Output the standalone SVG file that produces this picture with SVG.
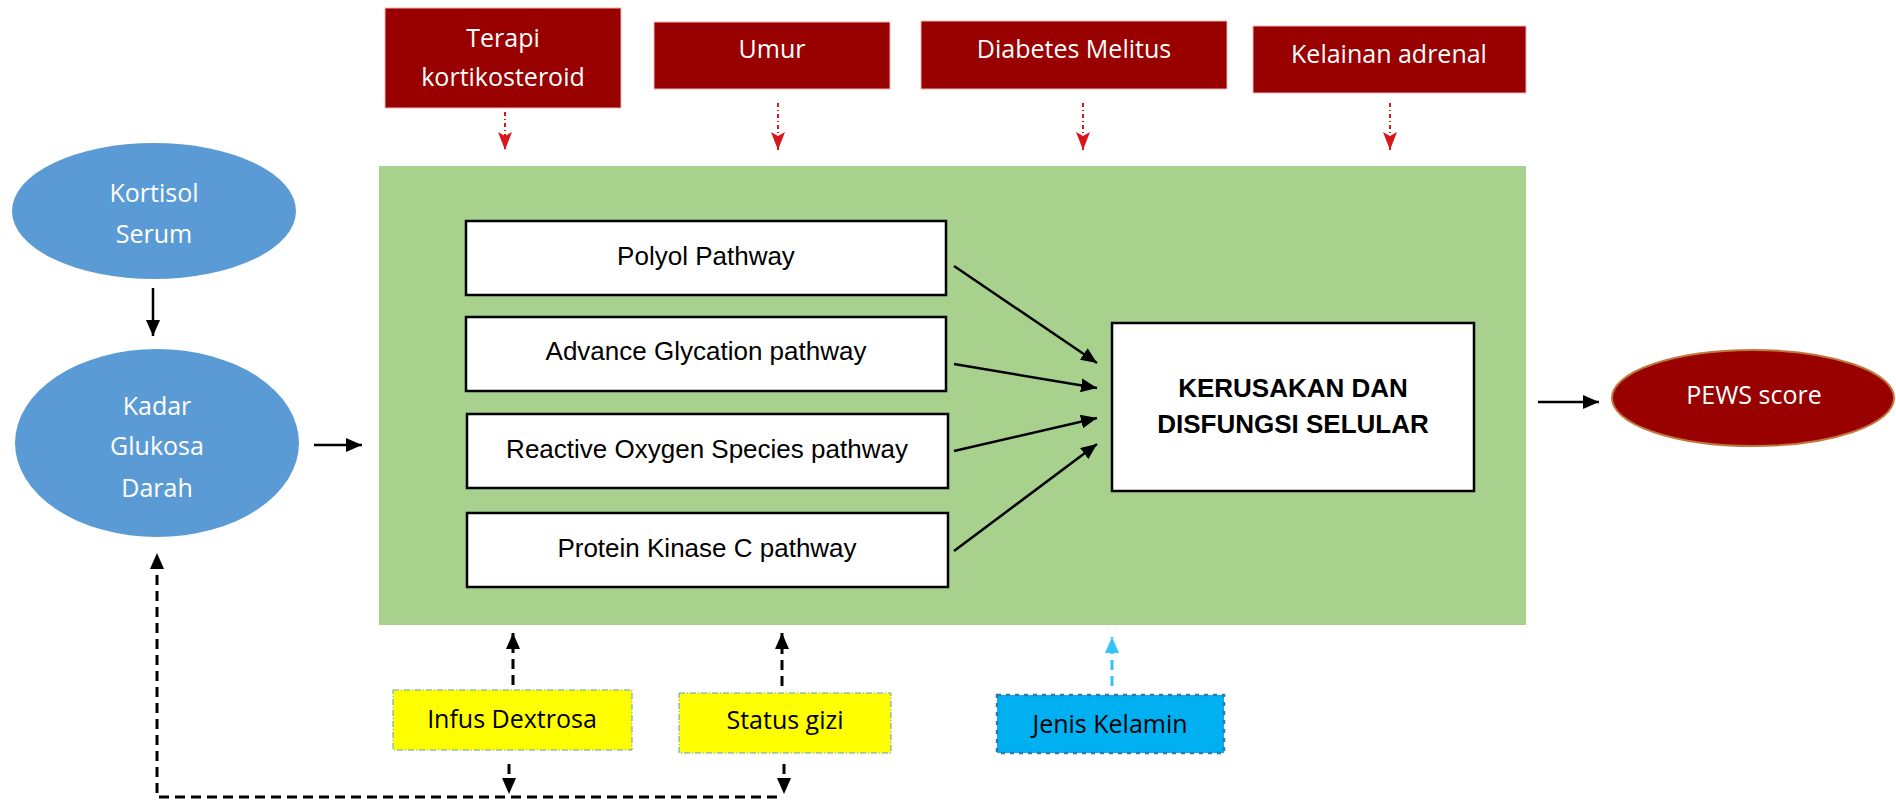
<svg xmlns="http://www.w3.org/2000/svg" width="1896" height="800" viewBox="0 0 1896 800">
<style>
.cal{font-family:"Open Sans","Liberation Sans",sans-serif;font-size:25px;text-anchor:middle}
.w{fill:#FFFFFF}
.k{fill:#000000}
.ar{font-family:"Liberation Sans",Arial,sans-serif;font-size:26px;text-anchor:middle;fill:#000}
.arb{font-family:"Liberation Sans",Arial,sans-serif;font-size:26px;font-weight:bold;text-anchor:middle;fill:#000}
.red{fill:#990000;stroke:#E6B9B8;stroke-width:1}
.blue{fill:#5B9BD5}
.path{fill:#FFFFFF;stroke:#000;stroke-width:2.5}
.yel{fill:#FFFF00;stroke:#5B9BD5;stroke-width:1;stroke-dasharray:6 2 1 2}
.solid{stroke:#000;stroke-width:2.5;fill:none;marker-end:url(#ab)}
.rd{stroke:#D9161C;stroke-width:2;fill:none;stroke-dasharray:4 3 1 3;marker-end:url(#ar)}
.bd{stroke:#000;stroke-width:3;fill:none;stroke-dasharray:10 6;marker-end:url(#ab2)}
.cd{stroke:#33C4F4;stroke-width:3;fill:none;stroke-dasharray:10 6;marker-end:url(#ac)}
</style>
<defs>
<marker id="ab" markerUnits="userSpaceOnUse" markerWidth="16" markerHeight="14" refX="16" refY="7" orient="auto"><path d="M0,0 L16,7 L0,14 z" fill="#000"/></marker>
<marker id="ab2" markerUnits="userSpaceOnUse" markerWidth="16" markerHeight="14" refX="16" refY="7" orient="auto"><path d="M0,0 L16,7 L0,14 z" fill="#000"/></marker>
<marker id="ar" markerUnits="userSpaceOnUse" markerWidth="18" markerHeight="14" refX="18" refY="7" orient="auto"><path d="M0,0 L4,7 L0,14 L18,7 z" fill="#D9161C"/></marker>
<marker id="ac" markerUnits="userSpaceOnUse" markerWidth="16" markerHeight="14" refX="16" refY="7" orient="auto"><path d="M0,0 L16,7 L0,14 z" fill="#33C4F4"/></marker>
</defs>
<rect x="0" y="0" width="1896" height="800" fill="#FFFFFF"/>
<g id="container"><rect x="379" y="166" width="1147" height="459" fill="#A9D18E"/></g>
<g id="terapi"><rect class="red" x="385" y="8" width="236" height="100"/><text class="cal w" x="503" y="47">Terapi</text><text class="cal w" x="503" y="86">kortikosteroid</text></g>
<g id="umur"><rect class="red" x="654" y="22" width="236" height="67"/><text class="cal w" x="772" y="58">Umur</text></g>
<g id="diabetes"><rect class="red" x="921" y="21" width="306" height="68"/><text class="cal w" x="1074" y="58">Diabetes Melitus</text></g>
<g id="kelainan"><rect class="red" x="1253" y="26" width="273" height="67"/><text class="cal w" x="1389" y="63">Kelainan adrenal</text></g>
<g id="kortisol"><ellipse class="blue" cx="154" cy="211" rx="142" ry="68"/><text class="cal w" x="154" y="202">Kortisol</text><text class="cal w" x="154" y="243">Serum</text></g>
<g id="kadar"><ellipse class="blue" cx="157" cy="443" rx="142" ry="94"/><text class="cal w" x="157" y="415">Kadar</text><text class="cal w" x="157" y="455">Glukosa</text><text class="cal w" x="157" y="497">Darah</text></g>
<g id="polyol"><rect class="path" x="466" y="221" width="480" height="74"/><text class="ar" x="706" y="265">Polyol Pathway</text></g>
<g id="advance"><rect class="path" x="466" y="317" width="480" height="74"/><text class="ar" x="706" y="360">Advance Glycation pathway</text></g>
<g id="reactive"><rect class="path" x="467" y="414" width="481" height="74"/><text class="ar" x="707" y="458">Reactive Oxygen Species pathway</text></g>
<g id="protein"><rect class="path" x="467" y="513" width="481" height="74"/><text class="ar" x="707" y="557">Protein Kinase C pathway</text></g>
<g id="kerusakan"><rect class="path" x="1112" y="323" width="362" height="168"/><text class="arb" x="1293" y="397">KERUSAKAN DAN</text><text class="arb" x="1293" y="433">DISFUNGSI SELULAR</text></g>
<g id="pews"><ellipse cx="1753" cy="398" rx="141" ry="48" fill="#990000" stroke="#C0773A" stroke-width="2"/><text class="cal w" x="1754" y="404">PEWS score</text></g>
<g id="infus"><rect class="yel" x="393" y="690" width="239" height="60"/><text class="cal k" x="512" y="728">Infus Dextrosa</text></g>
<g id="status"><rect class="yel" x="679" y="693" width="212" height="60"/><text class="cal k" x="785" y="729">Status gizi</text></g>
<g id="jenis"><rect x="997" y="695" width="227" height="58" fill="#00B0F0" stroke="#2E75B6" stroke-width="2.5" stroke-dasharray="4 5"/><text class="cal k" x="1110" y="733">Jenis Kelamin</text></g>
<g id="connectors">
<line class="solid" x1="153" y1="288" x2="153" y2="336"/>
<line class="solid" x1="314" y1="445" x2="362" y2="445"/>
<line class="solid" x1="954" y1="266" x2="1097" y2="363"/>
<line class="solid" x1="954" y1="364" x2="1097" y2="388"/>
<line class="solid" x1="954" y1="451" x2="1097" y2="418"/>
<line class="solid" x1="954" y1="551" x2="1097" y2="444"/>
<line class="solid" x1="1538" y1="402" x2="1599" y2="402"/>
<line class="rd" x1="505" y1="112" x2="505" y2="150"/>
<line class="rd" x1="778" y1="103" x2="778" y2="150"/>
<line class="rd" x1="1083" y1="103" x2="1083" y2="150"/>
<line class="rd" x1="1390" y1="103" x2="1390" y2="150"/>
<line class="bd" x1="513" y1="685" x2="513" y2="633"/>
<line class="bd" x1="782" y1="686" x2="782" y2="633"/>
<line class="cd" x1="1112" y1="686" x2="1112" y2="637"/>
<line class="bd" x1="509" y1="764" x2="509" y2="794"/>
<line class="bd" x1="784" y1="764" x2="784" y2="794"/>
<path class="bd" d="M777,797 L157,797 L157,553"/>
</g>
</svg>
